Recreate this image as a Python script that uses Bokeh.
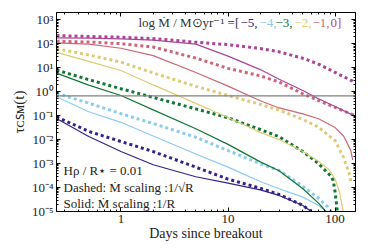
import numpy as np
from bokeh.plotting import figure
from bokeh.models import Range1d, FixedTicker, LogAxis, Label, Span
from bokeh.embed import file_html
from bokeh.resources import INLINE

# ---------------- data (log10 of tau_CSM) ----------------
mdot_labels = ["\u22125,", "\u22124,", "\u22123,", "\u22122,", "\u22121,", "0]"]
colors = ["#332288", "#88CCEE", "#117733", "#DDCC77", "#CC6677", "#AA4499"]

# solid: Mdot scaling 1/R
t_solid = [
    [0.25, 0.5, 1, 2, 5, 10, 20, 30, 50, 60],
    [0.25, 0.5, 1, 2, 5, 10, 20, 30, 50, 70, 83],
    [0.25, 0.5, 1, 2, 5, 10, 20, 30, 50, 70, 82],
    [0.25, 0.5, 1, 2, 5, 10, 20, 30, 50, 70, 88, 100, 110, 119],
    [0.25, 0.5, 1, 2, 5, 10, 20, 30, 50, 70, 100, 120, 140, 146],
    [0.25, 0.5, 1, 2, 5, 10, 20, 30, 50, 70, 100, 150],
]
logtau_solid = [
    [-1.12, -1.87, -2.5, -3.05, -3.55, -3.82, -4.1, -4.33, -4.75, -5.0],
    [-0.21, -0.84, -1.28, -1.85, -2.6, -3.15, -3.75, -4.05, -4.4, -4.75, -5.0],
    [0.77, 0.27, -0.16, -0.76, -1.55, -2.2, -2.93, -3.3, -4.05, -4.65, -5.0],
    [1.64, 1.26, 0.88, 0.28, -0.49, -1.08, -1.70, -2.0, -2.5, -2.9, -3.26, -3.65, -4.2, -5.0],
    [2.03, 1.98, 1.81, 1.5, 0.8, 0.23, -0.38, -0.68, -0.93, -1.13, -1.5, -1.85, -2.45, -2.86],
    [2.24, 2.23, 2.20, 2.15, 1.98, 1.48, 0.92, 0.52, 0.05, -0.3, -0.62, -1.0],
]
# dashed: Mdot scaling 1/sqrt(R)
t_dashed = [
    [0.25, 0.5, 1, 2, 5, 10, 20, 30, 50, 60],
    [0.25, 0.5, 1, 2, 5, 10, 20, 30, 50, 70, 85, 92],
    [0.25, 0.5, 1, 2, 5, 10, 20, 30, 50, 70, 90, 96, 100, 105],
    [0.25, 0.5, 1, 2, 5, 10, 20, 30, 50, 70, 100, 120, 135, 140],
    [0.25, 0.5, 1, 2, 5, 10, 20, 30, 50, 70, 100, 150],
    [0.25, 0.5, 1, 2, 5, 10, 20, 30, 50, 70, 100, 150],
]
logtau_dashed = [
    [-1.05, -1.66, -2.08, -2.5, -3.15, -3.65, -4.03, -4.29, -4.75, -5.0],
    [-0.07, -0.48, -0.92, -1.33, -1.9, -2.46, -3.01, -3.29, -3.95, -4.45, -4.8, -5.0],
    [0.90, 0.50, 0.12, -0.24, -0.72, -1.09, -1.58, -1.88, -2.5, -3.0, -3.5, -3.70, -4.2, -5.0],
    [1.79, 1.53, 1.23, 0.78, 0.22, -0.16, -0.53, -0.77, -1.16, -1.48, -2.05, -2.75, -3.4, -3.75],
    [2.10, 2.07, 2.0, 1.86, 1.40, 0.97, 0.66, 0.40, -0.09, -0.37, -0.66, -0.98],
    [2.34, 2.30, 2.27, 2.21, 2.06, 1.96, 1.80, 1.66, 1.39, 1.15, 0.80, 0.41],
]
tau_photo = 2.0 / 3.0

x_ticks = [1, 10, 100]
x_tick_labels = ["1", "10", "100"]
y_ticks = [1e-5, 1e-4, 1e-3, 1e-2, 1e-1, 1e0, 1e1, 1e2, 1e3]
y_tick_labels = ["10\u207b\u2075", "10\u207b\u2074", "10\u207b\u00b3", "10\u207b\u00b2", "10\u207b\u00b9",
                 "10\u2070", "10\u00b9", "10\u00b2", "10\u00b3"]

# ---------------- layout ----------------
X0, X1 = 0.25, 155.0
Y0, Y1 = 1e-5, 2e3
FL, FR, FT, FB = 56, 355, 12, 211   # frame edges in canvas px
W, H = 366, 248
FONT = "Liberation Serif"


def px_t(px):
    return 10 ** (np.log10(X0) + (px - FL) / (FR - FL) * (np.log10(X1) - np.log10(X0)))


def py_tau(py):
    return 10 ** (np.log10(Y1) - (py - FT) / (FB - FT) * (np.log10(Y1) - np.log10(Y0)))


p = figure(x_axis_type="log", y_axis_type="log",
           x_range=Range1d(X0, X1), y_range=Range1d(Y0, Y1),
           width=W, height=H,
           min_border_left=FL, min_border_top=FT, min_border_right=W - FR, min_border_bottom=H - FB,
           output_backend="svg", toolbar_location=None)
p.background_fill_color = "white"
p.border_fill_color = "white"
p.grid.visible = False
p.outline_line_color = "black"
p.outline_line_width = 1

minor_y = [m * 10.0 ** e for e in range(-5, 4) for m in range(2, 10)]
minor_x = [m * 10.0 ** e for e in range(-1, 3) for m in range(1, 10)]

ax_bottom = p.xaxis[0]
ax_left = p.yaxis[0]


def style_axis(ax, ticks, minor, labels, show):
    ax.ticker = FixedTicker(ticks=ticks, minor_ticks=minor)
    ax.major_tick_in = 4
    ax.major_tick_out = 0
    ax.minor_tick_in = 2
    ax.minor_tick_out = 0
    ax.axis_line_color = "black"
    ax.major_tick_line_color = "black"
    ax.minor_tick_line_color = "black"
    if show:
        ax.major_label_overrides = {float(k): v for k, v in zip(ticks, labels)}
        ax.major_label_text_font = FONT
        ax.major_label_text_font_size = "13px"
        ax.major_label_text_color = "#222222"
        ax.major_label_standoff = 3
    else:
        ax.major_label_text_font_size = "1px"
        ax.major_label_text_alpha = 0
        ax.major_label_standoff = 0


style_axis(ax_bottom, x_ticks, minor_x, x_tick_labels, True)
style_axis(ax_left, y_ticks, minor_y, y_tick_labels, True)
ax_top = LogAxis()
ax_right = LogAxis()
p.add_layout(ax_top, "above")
p.add_layout(ax_right, "right")
style_axis(ax_top, x_ticks, minor_x, x_tick_labels, False)
style_axis(ax_right, y_ticks, minor_y, y_tick_labels, False)

ax_bottom.axis_label = "Days since breakout"
ax_bottom.axis_label_text_font = FONT
ax_bottom.axis_label_text_font_size = "14px"
ax_bottom.axis_label_text_font_style = "normal"
ax_bottom.axis_label_text_color = "#222222"
ax_bottom.axis_label_standoff = 0

ax_left.axis_label = "\u03c4\u1d04\ua731\u1d0d(t)"
ax_left.axis_label_text_font = FONT
ax_left.axis_label_text_font_size = "15px"
ax_left.axis_label_text_font_style = "normal"
ax_left.axis_label_text_color = "#222222"
ax_left.axis_label_standoff = 2

# horizontal photosphere line
p.add_layout(Span(location=tau_photo, dimension="width", line_color="#808080", line_width=1.3))

for i in range(6):
    p.line([float(v) for v in t_solid[i]], [10.0 ** v for v in logtau_solid[i]],
           line_color=colors[i], line_width=1.2)
    p.line([float(v) for v in t_dashed[i]], [10.0 ** v for v in logtau_dashed[i]],
           line_color=colors[i], line_width=3, line_dash="3 3")


def add_text(txt, px, py, size="13px", color="#222222", style="normal", align="left"):
    p.add_layout(Label(x=px_t(px), y=py_tau(py), text=txt, text_font=FONT, text_font_size=size,
                       text_color=color, text_font_style=style, text_baseline="middle",
                       text_align=align))


# legend line at top
add_text("log \u1e40 / M\u2299yr\u207b\u00b9 =[", 138, 22, size="13px", color="#333333")
leg_x = [240, 259, 275, 294, 312, 330]
for i in range(6):
    add_text(mdot_labels[i], leg_x[i], 22, size="13px", color=colors[i])

# annotations
add_text("H\u03c1 / R\u22c6 = 0.01", 63, 170)
add_text("Dashed: \u1e40 scaling :1/\u221aR", 63, 187)
add_text("Solid: \u1e40 scaling :1/R", 63, 203)

open("out.html", "w").write(file_html(p, INLINE))
